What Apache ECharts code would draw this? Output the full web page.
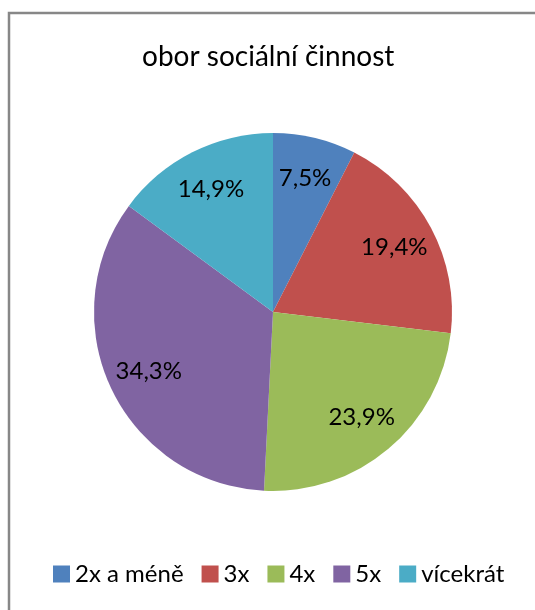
<!DOCTYPE html>
<html>
<head>
<meta charset="utf-8">
<script src="https://cdn.jsdelivr.net/npm/echarts@6/dist/echarts.min.js"></script>
<style>
  html, body { margin: 0; padding: 0; background: #fff; }
  #chart { width: 535px; height: 610px; }
</style>
</head>
<body>
<div id="chart"></div>
<script>
// Category names, shares (%) and slice colours
const categories = ['2x a méně', '3x', '4x', '5x', 'vícekrát'];
const values = [7.5, 19.4, 23.9, 34.3, 14.9];
const colors = ['#4f81bd', '#c0504d', '#9bbb59', '#8064a2', '#4bacc6'];

const FONT = 'Lato';
const data = categories.map((name, i) => ({ name, value: values[i] }));
const fmt = p => p.value.toFixed(1).replace('.', ',') + '%';

const chart = echarts.init(document.getElementById('chart'), null, { renderer: 'canvas' });
chart.setOption({
  animation: false,
  color: colors,
  title: {
    text: 'obor sociální činnost',
    left: 137,
    top: 38,
    textStyle: { fontFamily: FONT, fontSize: 28, fontWeight: 'normal', color: '#000' }
  },
  legend: {
    bottom: 19,
    left: 48,
    itemWidth: 17,
    itemHeight: 17,
    itemGap: 18,
    icon: 'rect',
    textStyle: { fontFamily: FONT, fontSize: 24, color: '#000' },
    data: categories
  },
  graphic: [{
    type: 'rect',
    shape: { x: 9, y: 13, width: 600, height: 700 },
    style: { fill: 'none', stroke: '#878787', lineWidth: 2.5 },
    z: 100,
    silent: true
  }],
  series: [
    {
      type: 'pie',
      center: [273, 312],
      radius: [0, 179],
      startAngle: 90,
      clockwise: true,
      label: { show: false },
      labelLine: { show: false },
      itemStyle: { borderWidth: 0 },
      emphasis: { disabled: true },
      data: data
    },
    {
      // ring used only to place the value labels at ~3/4 of the radius
      type: 'pie',
      center: [273, 312],
      radius: [90, 179],
      startAngle: 90,
      clockwise: true,
      silent: true,
      legendHoverLink: false,
      itemStyle: { color: 'rgba(0,0,0,0)', borderWidth: 0 },
      label: {
        show: true,
        position: 'inside',
        formatter: fmt,
        fontFamily: FONT,
        fontSize: 24,
        color: '#000'
      },
      labelLine: { show: false },
      emphasis: { disabled: true },
      data: data
    }
  ]
});
</script>
</body>
</html>
